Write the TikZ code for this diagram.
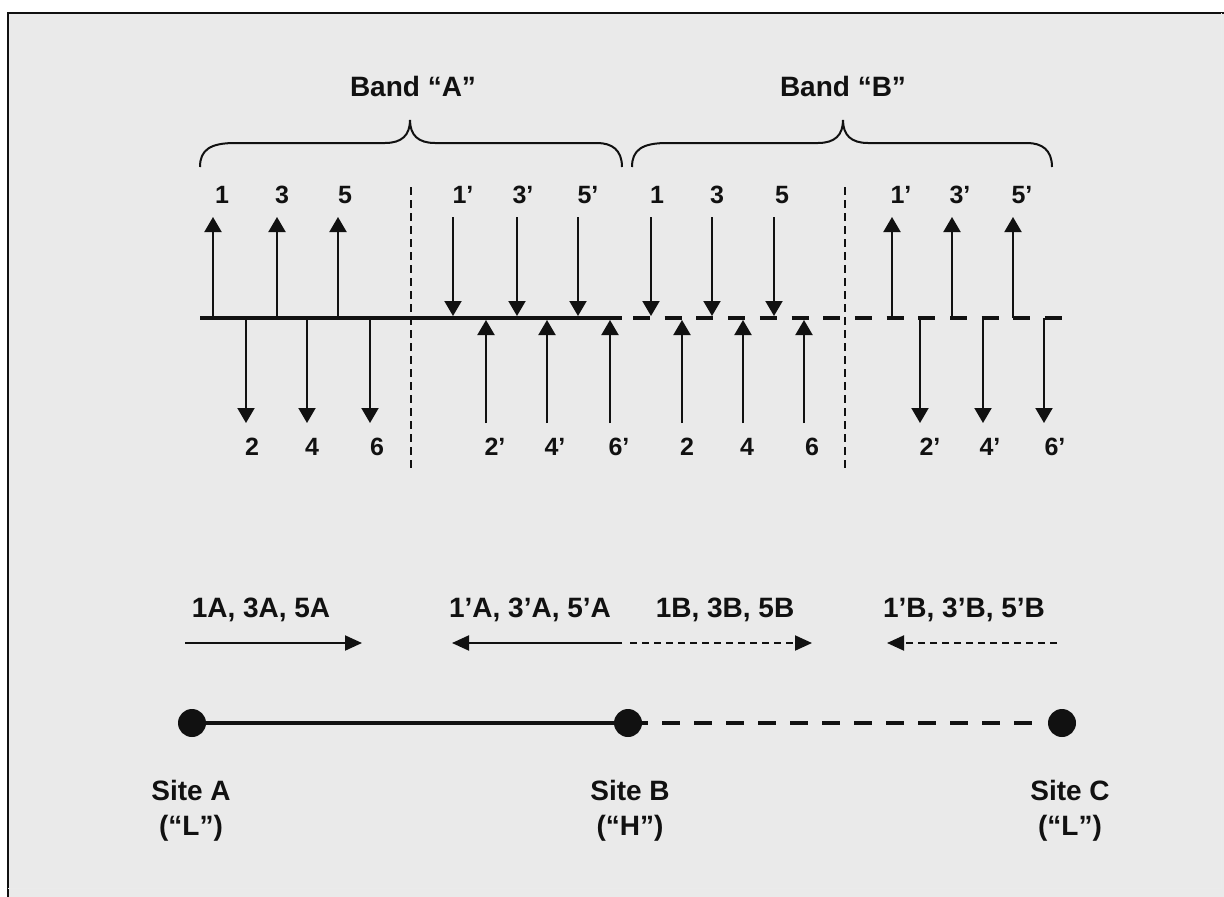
\documentclass[tikz,border=0pt]{standalone}
\usepackage{fontspec}
\setmainfont{Liberation Sans}
\usetikzlibrary{arrows.meta}
\definecolor{bgc}{RGB}{234,234,234}
\definecolor{ink}{RGB}{17,17,17}
\begin{document}
\begin{tikzpicture}[x=1pt,y=-1pt,
  big/.style={font=\fontsize{28}{30}\selectfont\bfseries, inner sep=0pt, text=ink},
  num/.style={font=\fontsize{25}{27}\selectfont\bfseries, inner sep=0pt, text=ink},
  axis/.style={line width=3.5pt, draw=ink},
  axisdash/.style={line width=3.5pt, draw=ink, dash pattern=on 17pt off 14.7pt},
  stem/.style={line width=2pt, draw=ink, -{Triangle[width=17pt,length=15pt]}},
  divider/.style={line width=1.5pt, draw=ink, dash pattern=on 8pt off 5pt},
  bracepath/.style={line width=2pt, draw=ink},
  flow/.style={line width=2pt, draw=ink, -{Triangle[width=15pt,length=17pt]}},
  flowdash/.style={flow, dash pattern=on 7pt off 5pt},
  site/.style={circle, fill=ink, minimum size=28pt, inner sep=0pt},
  link/.style={line width=3.5pt, draw=ink},
  linkdash/.style={line width=4pt, draw=ink, dash pattern=on 18pt off 14pt, dash phase=12pt}
]
\useasboundingbox (0,0) rectangle (1224,897);
\fill[white] (0,0) rectangle (1224,897);
\fill[bgc] (8,13) rectangle (1224,897);
\draw[line width=2pt, ink] (8,897) -- (8,13) -- (1224,13);
\draw[line width=1pt, black!8] (1221,13) -- (1221,888) -- (8,888);

% braces
\draw[bracepath] (200,167) .. controls (200,150) and (210,143) .. (235,143) -- (385,143)
  .. controls (402,143) and (410,135) .. (410,120)
  .. controls (410,135) and (418,143) .. (435,143) -- (597,143)
  .. controls (612,143) and (622,150) .. (622,167);
\draw[bracepath] (632,167) .. controls (632,150) and (642,143) .. (667,143) -- (818,143)
  .. controls (835,143) and (843,135) .. (843,120)
  .. controls (843,135) and (851,143) .. (868,143) -- (1027,143)
  .. controls (1042,143) and (1052,150) .. (1052,167);
\node[big] (bandA) at (413,86) {Band “A”};
\node[big] (bandB) at (843,86) {Band “B”};

% frequency axis
\draw[axis] (200,318) -- (622,318);
\draw[axisdash] (633,318) -- (1062,318);
\draw[divider] (411,187) -- (411,468);
\draw[divider] (845,187) -- (845,468);

% Band A arrows
\foreach \x in {213,277,338} \draw[stem] (\x,318) -- (\x,217);
\foreach \x in {246,307,370} \draw[stem] (\x,318) -- (\x,423);
\foreach \x in {453,517,578} \draw[stem] (\x,217) -- (\x,316);
\foreach \x in {486,547,610} \draw[stem] (\x,423) -- (\x,320);
% Band B arrows
\foreach \x in {651,712,774} \draw[stem] (\x,217) -- (\x,316);
\foreach \x in {682,743,804} \draw[stem] (\x,423) -- (\x,320);
\foreach \x in {892,952,1013} \draw[stem] (\x,318) -- (\x,217);
\foreach \x in {920,983,1044} \draw[stem] (\x,318) -- (\x,423);

% Band A labels
\node[num] (a1) at (222,195) {1};
\node[num] (a3) at (282,195) {3};
\node[num] (a5) at (345,195) {5};
\node[num] (a1p) at (463,195) {1’};
\node[num] (a3p) at (523,195) {3’};
\node[num] (a5p) at (588,195) {5’};
\node[num] (a2) at (252,447) {2};
\node[num] (a4) at (312,447) {4};
\node[num] (a6) at (377,447) {6};
\node[num] (a2p) at (495,447) {2’};
\node[num] (a4p) at (555,447) {4’};
\node[num] (a6p) at (619,447) {6’};
% Band B labels
\node[num] (b1) at (657,195) {1};
\node[num] (b3) at (717,195) {3};
\node[num] (b5) at (782,195) {5};
\node[num] (b1p) at (901,195) {1’};
\node[num] (b3p) at (960,195) {3’};
\node[num] (b5p) at (1022,195) {5’};
\node[num] (b2) at (687,447) {2};
\node[num] (b4) at (747,447) {4};
\node[num] (b6) at (812,447) {6};
\node[num] (b2p) at (930,447) {2’};
\node[num] (b4p) at (990,447) {4’};
\node[num] (b6p) at (1055,447) {6’};

% transmit directions
\node[big] (tA) at (261,610) {1A, 3A, 5A};
\node[big] (tAp) at (530,610) {1’A, 3’A, 5’A};
\node[big] (tB) at (725,610) {1B, 3B, 5B};
\node[big] (tBp) at (964,610) {1’B, 3’B, 5’B};
\coordinate (fA0) at (185,643);  \coordinate (fA1) at (362,643);
\coordinate (fAp0) at (622,643); \coordinate (fAp1) at (452,643);
\coordinate (fB0) at (630,643);  \coordinate (fB1) at (812,643);
\coordinate (fBp0) at (1057,643); \coordinate (fBp1) at (887,643);
\draw[flow] (fA0) -- (fA1);
\draw[flow] (fAp0) -- (fAp1);
\draw[flowdash] (fB0) -- (fB1);
\draw[flowdash] (fBp0) -- (fBp1);

% sites
\node[site] (siteA) at (192,723) {};
\node[site] (siteB) at (628,723) {};
\node[site] (siteC) at (1062,723) {};
\draw[link] (siteA) -- (siteB);
\draw[linkdash, shorten >=16pt] (siteB) -- (siteC);
\node[big] (nameA) at (191,790) {Site A};
\node[big] (codeA) at (191,828) {(“L”)};
\node[big] (nameB) at (630,790) {Site B};
\node[big] (codeB) at (630,828) {(“H”)};
\node[big] (nameC) at (1070,790) {Site C};
\node[big] (codeC) at (1070,828) {(“L”)};
\end{tikzpicture}
\end{document}
